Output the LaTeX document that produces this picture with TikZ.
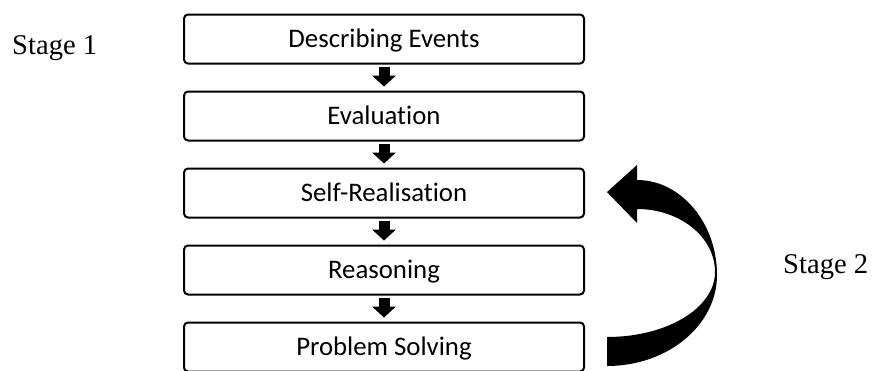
\documentclass[tikz,border=0pt]{standalone}
\usepackage{fontspec}
\setmainfont{Liberation Serif}
\newfontfamily\boxfont[Ligatures=NoCommon]{Carlito}
\usepackage{tikz}
\usetikzlibrary{arrows.meta,positioning,calc}
\definecolor{ink}{HTML}{000000}
\tikzset{
  stagebox/.style={
    draw=ink, line width=2pt, rounded corners=4pt,
    minimum width=400pt, minimum height=49pt,
    text height=17.3pt, text depth=0pt, inner sep=0pt,
    font=\boxfont\fontsize{26.8}{30}\selectfont
  },
  stagelabel/.style={
    inner sep=0pt, anchor=base west,
    font=\fontsize{28.6}{32}\selectfont
  },
  downarrow/.style={
    draw=ink, line width=11pt, shorten <=2pt, shorten >=4pt,
    -{Triangle[width=24pt,length=11pt,line width'=0pt]}
  }
}

\begin{document}
\begin{tikzpicture}[x=1pt,y=1pt]
  \useasboundingbox (0,0) rectangle (872,-370);

  % the five boxes
  \node[stagebox] (describe) at (384,-39) {Describing Events};
  \node[stagebox,below=26pt of describe] (evaluate) {Evaluation};
  \node[stagebox,below=26pt of evaluate] (realise) {Self-Realisation};
  \node[stagebox,below=26pt of realise] (reason) {Reasoning};
  \node[stagebox,below=26pt of reason] (solve) {Problem Solving};

  \draw[downarrow] (describe) -- (evaluate);
  \draw[downarrow] (evaluate) -- (realise);
  \draw[downarrow] (realise) -- (reason);
  \draw[downarrow] (reason) -- (solve);

  % stage labels
  \node[stagelabel] (stageone) at (12,-54) {Stage 1};
  \node[stagelabel] (stagetwo) at (783,-273) {Stage 2};

  % curved return arrow
  \fill[ink] (607,-192) -- (637,-165) -- (637,-180)
    .. controls (681,-180) and (717,-223) .. (717,-275)
    .. controls (717,-325) and (668,-366) .. (607,-366)
    -- (607,-337)
    .. controls (667,-337) and (715,-308) .. (715,-272)
    .. controls (715,-237) and (680,-209) .. (637,-209)
    -- (637,-223) -- cycle;
\end{tikzpicture}
\end{document}
